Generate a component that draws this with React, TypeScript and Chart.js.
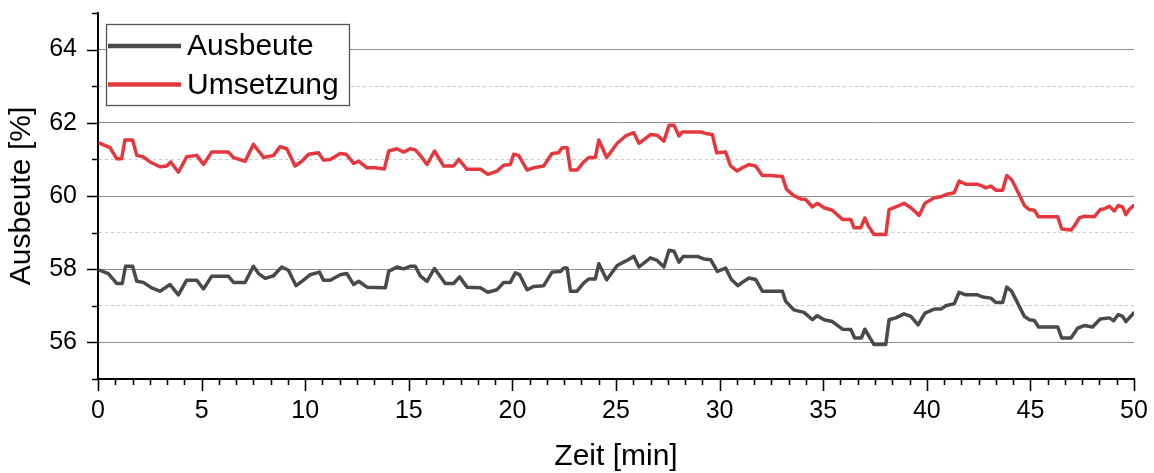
import React, { useEffect, useRef } from 'react';
import { Chart, registerables } from 'chart.js';

Chart.register(...registerables);

// ---- data ----
const seriesNames = ['Ausbeute', 'Umsetzung'];
const xTitle = 'Zeit [min]';
const yTitle = 'Ausbeute [%]';
const xMajorTicks = [0, 5, 10, 15, 20, 25, 30, 35, 40, 45, 50];
const yMajorTicks = [56, 58, 60, 62, 64];

const timeAusbeute = [
  0.1, 0.5, 0.9, 1.17, 1.33, 1.67, 1.87, 2.19, 2.59, 2.99, 3.48, 3.88, 4.28, 4.77, 5.09, 5.49, 6.29, 6.54, 7.1, 7.5,
  7.75, 8.07, 8.47, 8.87, 9.19, 9.56, 9.92, 10.24, 10.69, 10.88, 11.21, 11.69, 12.01, 12.34, 12.58, 12.98, 13.87, 14.03, 14.43, 14.75,
  15.07, 15.31, 15.55, 15.88, 16.24, 16.76, 17.16, 17.45, 17.81, 18.46, 18.81, 19.26, 19.58, 19.9, 20.14, 20.35, 20.71, 21.03, 21.51, 21.91,
  22.32, 22.48, 22.64, 22.8, 23.12, 23.44, 23.68, 24.0, 24.17, 24.55, 25.06, 25.46, 25.86, 26.11, 26.66, 26.99, 27.31, 27.56, 27.8, 28.04,
  28.24, 28.92, 29.24, 29.57, 29.89, 30.29, 30.57, 30.89, 31.09, 31.42, 31.74, 32.06, 33.03, 33.19, 33.58, 34.07, 34.48, 34.71, 35.04, 35.44,
  35.93, 36.33, 36.52, 36.84, 37.01, 37.22, 37.45, 38.02, 38.18, 38.5, 38.9, 39.23, 39.58, 39.91, 40.36, 40.68, 40.92, 41.33, 41.56, 41.88,
  42.45, 42.69, 43.09, 43.33, 43.66, 43.86, 44.09, 44.38, 44.71, 44.95, 45.19, 45.39, 46.32, 46.51, 46.96, 47.28, 47.6, 48.0, 48.37, 48.81,
  49.02, 49.24, 49.45, 49.61, 49.77, 49.98,
];
const ausbeute = [
  57.97, 57.88, 57.61, 57.61, 58.08, 58.08, 57.67, 57.64, 57.49, 57.4, 57.58, 57.3, 57.7, 57.7, 57.46, 57.81, 57.81, 57.64, 57.64, 58.08,
  57.88, 57.75, 57.82, 58.06, 57.97, 57.55, 57.7, 57.85, 57.92, 57.7, 57.7, 57.85, 57.88, 57.58, 57.67, 57.51, 57.49, 57.94, 58.06, 58.01,
  58.08, 58.08, 57.82, 57.67, 58.02, 57.61, 57.61, 57.79, 57.51, 57.49, 57.37, 57.44, 57.64, 57.64, 57.9, 57.85, 57.44, 57.53, 57.55, 57.92,
  57.94, 58.03, 58.03, 57.4, 57.4, 57.62, 57.73, 57.73, 58.15, 57.71, 58.1, 58.22, 58.35, 58.06, 58.31, 58.24, 58.06, 58.52, 58.49, 58.19,
  58.35, 58.35, 58.28, 58.26, 57.94, 58.03, 57.72, 57.55, 57.64, 57.76, 57.72, 57.4, 57.4, 57.12, 56.89, 56.82, 56.62, 56.73, 56.62, 56.57,
  56.36, 56.35, 56.12, 56.12, 56.36, 56.16, 55.94, 55.94, 56.62, 56.67, 56.78, 56.71, 56.48, 56.8, 56.91, 56.91, 57.0, 57.06, 57.37, 57.3,
  57.3, 57.24, 57.21, 57.09, 57.09, 57.51, 57.4, 57.08, 56.71, 56.62, 56.6, 56.42, 56.42, 56.12, 56.12, 56.39, 56.46, 56.42, 56.64, 56.67,
  56.59, 56.76, 56.71, 56.57, 56.67, 56.8,
];

const timeUmsetzung = [
  0.1, 0.58, 0.9, 1.14, 1.3, 1.67, 1.87, 2.19, 2.51, 2.99, 3.32, 3.51, 3.88, 4.28, 4.77, 5.09, 5.49, 6.29, 6.54, 7.1,
  7.5, 7.75, 8.0, 8.47, 8.79, 9.11, 9.51, 9.84, 10.16, 10.64, 10.88, 11.21, 11.69, 11.98, 12.34, 12.58, 12.98, 13.38, 13.82, 14.03,
  14.43, 14.75, 15.07, 15.31, 15.55, 15.88, 16.24, 16.68, 17.16, 17.41, 17.81, 18.46, 18.81, 19.26, 19.58, 19.9, 20.06, 20.3, 20.71, 21.03,
  21.51, 21.91, 22.23, 22.4, 22.64, 22.8, 23.12, 23.44, 23.68, 24.0, 24.17, 24.55, 25.06, 25.46, 25.86, 26.11, 26.66, 26.99, 27.31, 27.56,
  27.8, 28.04, 28.2, 29.08, 29.32, 29.65, 29.86, 30.29, 30.53, 30.85, 31.09, 31.42, 31.74, 32.06, 32.46, 33.03, 33.23, 33.58, 33.91, 34.14,
  34.48, 34.71, 35.04, 35.44, 35.93, 36.33, 36.49, 36.81, 37.01, 37.17, 37.45, 38.02, 38.18, 38.5, 38.9, 39.23, 39.63, 39.91, 40.36, 40.68,
  40.92, 41.33, 41.56, 41.88, 42.45, 42.69, 42.85, 43.09, 43.33, 43.66, 43.86, 44.09, 44.38, 44.71, 44.95, 45.19, 45.39, 46.32, 46.51, 46.96,
  47.12, 47.36, 47.6, 48.08, 48.37, 48.57, 48.81, 49.05, 49.24, 49.45, 49.61, 49.77, 49.98,
];
const umsetzung = [
  61.44, 61.32, 61.02, 61.02, 61.53, 61.53, 61.11, 61.07, 60.93, 60.8, 60.82, 60.93, 60.65, 61.07, 61.11, 60.86, 61.2, 61.2, 61.05, 60.95,
  61.41, 61.23, 61.05, 61.11, 61.35, 61.29, 60.82, 60.95, 61.14, 61.18, 60.98, 61.0, 61.16, 61.14, 60.89, 60.95, 60.77, 60.77, 60.74, 61.23,
  61.29, 61.2, 61.29, 61.26, 61.11, 60.86, 61.23, 60.82, 60.82, 61.0, 60.73, 60.73, 60.59, 60.68, 60.84, 60.86, 61.14, 61.11, 60.71, 60.77,
  60.82, 61.16, 61.18, 61.32, 61.32, 60.71, 60.71, 60.93, 61.05, 61.05, 61.53, 61.05, 61.44, 61.64, 61.73, 61.44, 61.68, 61.66, 61.5, 61.93,
  61.93, 61.64, 61.75, 61.75, 61.71, 61.68, 61.18, 61.2, 60.82, 60.68, 60.77, 60.86, 60.82, 60.56, 60.56, 60.53, 60.18, 60.01, 59.92, 59.91,
  59.7, 59.8, 59.68, 59.61, 59.36, 59.36, 59.13, 59.13, 59.4, 59.19, 58.95, 58.95, 59.63, 59.7, 59.8, 59.68, 59.47, 59.8, 59.95, 59.98,
  60.04, 60.09, 60.41, 60.32, 60.32, 60.27, 60.22, 60.27, 60.16, 60.16, 60.56, 60.45, 60.13, 59.74, 59.63, 59.61, 59.43, 59.43, 59.1, 59.07,
  59.18, 59.4, 59.45, 59.43, 59.63, 59.65, 59.72, 59.59, 59.74, 59.7, 59.49, 59.63, 59.74,
];

const FONT = '"Liberation Sans", Arial, Helvetica, sans-serif';
const COLOR_A = '#494949';
const COLOR_U = '#e5383e';

const zip = (xs: number[], ys: number[]) => xs.map((x, i) => ({ x, y: ys[i] }));

// Tick marks: long major, short minor, pointing out of the plot.
const tickMarksPlugin = {
  id: 'tickMarks',
  afterDraw(chart: any) {
    const { ctx, chartArea, scales } = chart;
    const xs = scales.x;
    const ys = scales.y;
    ctx.save();
    ctx.strokeStyle = '#000';
    ctx.lineWidth = 1.6;
    ctx.beginPath();
    const xMin = xMajorTicks[0];
    const xMax = xMajorTicks[xMajorTicks.length - 1];
    const minorPerMajor = 6;
    const majorStep = xMajorTicks[1] - xMajorTicks[0];
    const nX = ((xMax - xMin) / majorStep) * minorPerMajor;
    for (let i = 0; i <= nX; i++) {
      const v = xMin + (i * majorStep) / minorPerMajor;
      const px = Math.round(xs.getPixelForValue(v)) + 0.5;
      const len = i % minorPerMajor === 0 ? 12 : 6;
      ctx.moveTo(px, chartArea.bottom);
      ctx.lineTo(px, chartArea.bottom + len);
    }
    for (let v = ys.min; v <= ys.max; v++) {
      const py = Math.round(ys.getPixelForValue(v)) + 0.5;
      const len = yMajorTicks.includes(v) ? 11 : 6;
      ctx.moveTo(chartArea.left - len, py);
      ctx.lineTo(chartArea.left, py);
    }
    ctx.stroke();
    ctx.restore();
  },
};

// Boxed legend inside the plot, top-left.
const boxLegendPlugin = {
  id: 'boxLegend',
  afterDatasetsDraw(chart: any) {
    const { ctx } = chart;
    const bx = 106;
    const by = 24;
    const bw = 243;
    const bh = 81;
    ctx.save();
    ctx.fillStyle = '#fff';
    ctx.fillRect(bx, by, bw, bh);
    ctx.strokeStyle = '#555';
    ctx.lineWidth = 1.3;
    ctx.strokeRect(bx + 0.5, by + 0.5, bw, bh);
    ctx.font = `30px ${FONT}`;
    ctx.textBaseline = 'middle';
    ctx.textAlign = 'left';
    chart.data.datasets.forEach((ds: any, i: number) => {
      const cy = by + 22 + i * 38.5;
      ctx.strokeStyle = ds.borderColor;
      ctx.lineWidth = 4.5;
      ctx.beginPath();
      ctx.moveTo(bx + 2, cy);
      ctx.lineTo(bx + 75, cy);
      ctx.stroke();
      ctx.fillStyle = '#000';
      ctx.fillText(ds.label, bx + 81, cy + 1);
    });
    ctx.restore();
  },
};

const zeroPadding = (scale: any) => {
  scale.paddingLeft = 0;
  scale.paddingRight = 0;
  scale.paddingTop = 0;
  scale.paddingBottom = 0;
};

export default function App() {
  const canvasRef = useRef<HTMLCanvasElement | null>(null);

  useEffect(() => {
    document.body.style.margin = '0';
    const canvas = canvasRef.current;
    if (!canvas) return;
    const chart = new Chart(canvas, {
      type: 'line',
      data: {
        datasets: [
          {
            label: seriesNames[0],
            data: zip(timeAusbeute, ausbeute),
            borderColor: COLOR_A,
            backgroundColor: COLOR_A,
            borderWidth: 3.5,
            pointRadius: 0,
            tension: 0,
            borderJoinStyle: 'round',
            borderCapStyle: 'round',
          },
          {
            label: seriesNames[1],
            data: zip(timeUmsetzung, umsetzung),
            borderColor: COLOR_U,
            backgroundColor: COLOR_U,
            borderWidth: 3.5,
            pointRadius: 0,
            tension: 0,
            borderJoinStyle: 'round',
            borderCapStyle: 'round',
          },
        ],
      },
      options: {
        responsive: false,
        animation: false,
        devicePixelRatio: 1,
        layout: { padding: { left: 0, right: 20, top: 13, bottom: 0 } },
        plugins: {
          legend: { display: false },
          tooltip: { enabled: false },
        },
        scales: {
          x: {
            type: 'linear',
            min: 0,
            max: 50,
            afterFit: (scale: any) => {
              scale.height = 94;
              zeroPadding(scale);
            },
            grid: { display: true, color: 'rgba(0,0,0,0)', drawTicks: false },
            border: { display: true, color: '#000', width: 2 },
            ticks: {
              stepSize: 5,
              autoSkip: false,
              maxRotation: 0,
              padding: 17,
              color: '#000',
              font: { family: FONT, size: 25 },
              callback: (v: any) => (xMajorTicks.includes(Number(v)) ? String(v) : null),
            },
            title: {
              display: true,
              text: xTitle,
              color: '#000',
              font: { family: FONT, size: 30, lineHeight: 1 },
              padding: { top: 0, bottom: 1 },
            },
          },
          y: {
            type: 'linear',
            min: 55,
            max: 65,
            afterFit: (scale: any) => {
              scale.width = 98;
              zeroPadding(scale);
            },
            grid: {
              drawTicks: false,
              lineWidth: 1,
              color: (c: any) => {
                const v = c.tick ? c.tick.value : undefined;
                if (v === undefined) return 'rgba(0,0,0,0)';
                return yMajorTicks.includes(v) ? '#8e8e8e' : '#c9c9c9';
              },
            },
            border: {
              display: true,
              color: '#000',
              width: 2,
              dash: (c: any) => (c.tick && !yMajorTicks.includes(c.tick.value) ? [3, 3] : []),
            },
            ticks: {
              stepSize: 1,
              autoSkip: false,
              padding: 21,
              color: '#000',
              font: { family: FONT, size: 25 },
              callback: (v: any) => {
                const n = Number(v);
                if (yMajorTicks.includes(n)) return String(n);
                if (n === 55 || n === 65) return null;
                return '';
              },
            },
            title: {
              display: true,
              text: yTitle,
              color: '#000',
              font: { family: FONT, size: 30, lineHeight: 1 },
              padding: { top: 7, bottom: 0 },
            },
          },
        },
      },
      plugins: [tickMarksPlugin, boxLegendPlugin],
    } as any);
    return () => chart.destroy();
  }, []);

  return (
    <div style={{ position: 'absolute', left: 0, top: 0, width: 1154, height: 473 }}>
      <canvas ref={canvasRef} width={1154} height={473} style={{ display: 'block' }} />
    </div>
  );
}
